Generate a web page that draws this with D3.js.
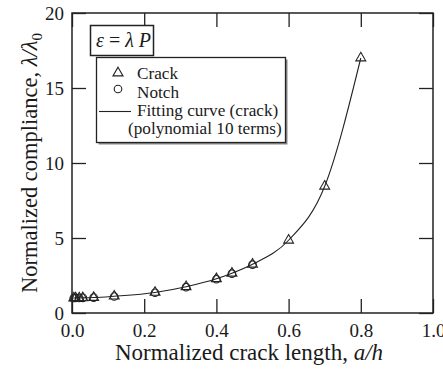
<!DOCTYPE html>
<html>
<head>
<meta charset="utf-8">
<script src="https://cdn.jsdelivr.net/npm/d3@7/dist/d3.min.js"></script>
</head>
<body style="margin:0">
<script>
// data
var crackX = [0.005, 0.01, 0.02, 0.03, 0.06, 0.117, 0.23, 0.316, 0.40, 0.443, 0.50, 0.60, 0.70, 0.80];
var crackY = [1.0, 1.0, 1.0, 1.01, 1.03, 1.12, 1.37, 1.75, 2.28, 2.65, 3.25, 4.85, 8.45, 17.0];
var notchX = [0.005, 0.01, 0.02, 0.03, 0.06, 0.117, 0.23, 0.316, 0.40, 0.443, 0.50];
var notchY = [1.0, 1.0, 1.0, 1.01, 1.03, 1.1, 1.35, 1.72, 2.25, 2.62, 3.22];
var xTicks = [0, 0.2, 0.4, 0.6, 0.8, 1.0];
var yTicks = [0, 5, 10, 15, 20];

var serif = "Liberation Serif";
var ink = "#1a1a1a";

var margin = {top: 13, right: 10, bottom: 61, left: 72},
    width = 443 - margin.left - margin.right,
    height = 374 - margin.top - margin.bottom;

var svg = d3.select("body")
  .append("svg")
    .attr("width", width + margin.left + margin.right)
    .attr("height", height + margin.top + margin.bottom);

svg.append("rect").attr("width", 443).attr("height", 374).attr("fill", "#fff");

var g = svg.append("g")
  .attr("transform", "translate(" + margin.left + "," + margin.top + ")");

var x = d3.scaleLinear().domain([0, 1]).range([0, width]);
var y = d3.scaleLinear().domain([0, 20]).range([height, 0]);

var tickLen = 14;

// axes: ticks point inward on all four sides
g.append("g")
  .attr("transform", "translate(0," + height + ")")
  .call(d3.axisBottom(x).tickValues(xTicks).tickSize(-tickLen).tickPadding(11)
    .tickFormat(d3.format(".1f")));
g.append("g")
  .call(d3.axisLeft(y).tickValues(yTicks).tickSize(-tickLen).tickPadding(8));
g.append("g")
  .call(d3.axisTop(x).tickValues(xTicks).tickSize(-tickLen).tickFormat(""));
g.append("g")
  .attr("transform", "translate(" + width + ",0)")
  .call(d3.axisRight(y).tickValues(yTicks).tickSize(-tickLen).tickFormat(""));

g.selectAll(".domain").remove();
g.selectAll(".tick line").attr("stroke", "#222").attr("stroke-width", 1.3);
g.selectAll("g").attr("font-family", serif).attr("font-size", 19);
g.selectAll(".tick text")
  .attr("font-family", serif)
  .attr("font-size", 19)
  .attr("fill", ink);

g.append("rect")
  .attr("width", width).attr("height", height)
  .attr("fill", "none").attr("stroke", "#222").attr("stroke-width", 1.5);

// fitting curve
var crack = crackX.map(function(d, i) { return [d, crackY[i]]; });
var notch = notchX.map(function(d, i) { return [d, notchY[i]]; });

var line = d3.line()
  .x(function(d) { return x(d[0]); })
  .y(function(d) { return y(d[1]); })
  .curve(d3.curveMonotoneX);

g.append("path")
  .datum([[0, 1.0]].concat(crack))
  .attr("d", line)
  .attr("fill", "none").attr("stroke", "#222").attr("stroke-width", 1.1);

var tri = d3.symbol().type(d3.symbolTriangle).size(42);

g.selectAll(".notch")
  .data(notch)
  .enter()
  .append("circle")
    .attr("cx", function(d) { return x(d[0]); })
    .attr("cy", function(d) { return y(d[1]); })
    .attr("r", 3.8)
    .attr("fill", "none").attr("stroke", "#222").attr("stroke-width", 1.1);

g.selectAll(".crack")
  .data(crack)
  .enter()
  .append("path")
    .attr("d", tri)
    .attr("transform", function(d) { return "translate(" + x(d[0]) + "," + y(d[1]) + ")"; })
    .attr("fill", "none").attr("stroke", "#222").attr("stroke-width", 1.1);

// axis titles
var xt = svg.append("text")
  .attr("x", 249).attr("y", 360)
  .attr("text-anchor", "middle")
  .attr("font-family", serif)
  .attr("font-size", 23)
  .attr("fill", ink);
xt.append("tspan").text("Normalized crack length, ");
xt.append("tspan").attr("font-style", "italic").text("a/h");

var yt = svg.append("text")
  .attr("transform", "translate(37,163) rotate(-90)")
  .attr("text-anchor", "middle")
  .attr("font-family", serif)
  .attr("font-size", 22.5)
  .attr("fill", ink);
yt.append("tspan").text("Normalized compliance, ");
yt.append("tspan").attr("font-style", "italic").text("\u03bb/\u03bb");
yt.append("tspan").attr("dy", 5).attr("font-size", 15).text("0");

// equation box
svg.append("rect")
  .attr("x", 90.5).attr("y", 25.5).attr("width", 63).attr("height", 30)
  .attr("fill", "#fff").attr("stroke", "#222").attr("stroke-width", 1.5);
var eq = svg.append("text").attr("x", 96).attr("y", 47)
  .attr("font-family", serif).attr("font-size", 20).attr("fill", ink);
eq.append("tspan").attr("font-style", "italic").text("\u03b5");
eq.append("tspan").text(" = ");
eq.append("tspan").attr("font-style", "italic").text("\u03bb P");

// legend box
svg.append("rect")
  .attr("x", 98.5).attr("y", 59.5).attr("width", 189).attr("height", 85)
  .attr("fill", "#888");
svg.append("rect")
  .attr("x", 96.5).attr("y", 57.5).attr("width", 189).attr("height", 85)
  .attr("fill", "#fff").attr("stroke", "#222").attr("stroke-width", 1.3);

svg.append("path")
  .attr("d", d3.symbol().type(d3.symbolTriangle).size(44))
  .attr("transform", "translate(118,73)")
  .attr("fill", "none").attr("stroke", "#222").attr("stroke-width", 1.1);
svg.append("circle")
  .attr("cx", 118).attr("cy", 89).attr("r", 3.8)
  .attr("fill", "none").attr("stroke", "#222").attr("stroke-width", 1.1);
svg.append("line")
  .attr("x1", 99).attr("x2", 131).attr("y1", 111.5).attr("y2", 111.5)
  .attr("stroke", "#222").attr("stroke-width", 1.1);

var legendText = ["Crack", "Notch", "Fitting curve (crack)"];
svg.selectAll(".lt")
  .data(legendText)
  .enter()
  .append("text")
    .attr("x", 137)
    .attr("y", function(d, i) { return 79 + i * 18.5; })
    .attr("font-family", serif)
    .attr("font-size", 17.2)
    .attr("fill", ink)
    .text(function(d) { return d; });
svg.append("text")
  .attr("x", 128).attr("y", 134)
  .attr("font-family", serif)
  .attr("font-size", 17.2)
  .attr("fill", ink)
  .text("(polynomial 10 terms)");
</script>
</body>
</html>
